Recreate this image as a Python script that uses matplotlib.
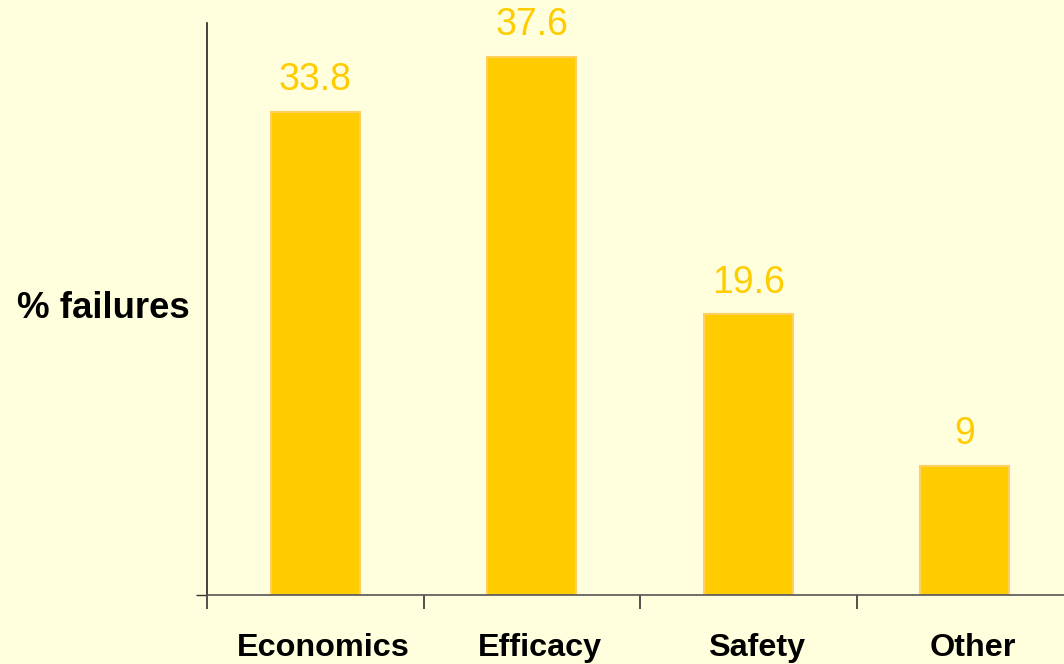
import matplotlib.pyplot as plt
from matplotlib.transforms import ScaledTranslation

categories = ['Economics', 'Efficacy', 'Safety', 'Other']
values = [33.8, 37.6, 19.6, 9]
value_labels = ['33.8', '37.6', '19.6', '9']

bg = '#FFFFDD'
gold = '#FFCC00'

plt.rcParams['font.family'] = ['Liberation Sans', 'DejaVu Sans']

fig = plt.figure(figsize=(10.64, 6.64), dpi=100, facecolor=bg)
ax = fig.add_axes([207 / 1064, 1 - 594.5 / 664, 866 / 1064, (594.5 - 23) / 664])
ax.set_facecolor(bg)

x = range(len(categories))
ax.bar(x, values, width=0.41, color=gold, edgecolor='#FFD060', linewidth=1.5, zorder=2)
for xi, v, lab in zip(x, values, value_labels):
    ax.annotate(lab, (xi, v), xytext=(0, 10), textcoords='offset points',
                ha='center', va='bottom', color=gold, fontsize=27)

ax.set_xlim(-0.5, 3.5)
ax.set_ylim(0, 40)

for s in ['top', 'right']:
    ax.spines[s].set_visible(False)
ax.spines['left'].set_color('#222222')
ax.spines['bottom'].set_color('#555555')
ax.spines['left'].set_linewidth(1.2)
ax.spines['bottom'].set_linewidth(1.2)

ax.set_yticks([0])
ax.set_yticklabels([])
ax.tick_params(axis='y', length=8, width=1, color='#333333')

ax.set_xticks(list(x))
ax.set_xticklabels(categories, fontsize=23.3, fontweight='bold')
ax.tick_params(axis='x', which='major', length=0, pad=27.5)
shift = ScaledTranslation(0.08, 0, fig.dpi_scale_trans)
for lbl in ax.get_xticklabels():
    lbl.set_transform(lbl.get_transform() + shift)
ax.set_xticks([-0.5, 0.5, 1.5, 2.5, 3.5], minor=True)
ax.tick_params(axis='x', which='minor', length=10, width=1.2, color='#333333')

fig.text(17 / 1064, 1 - 308 / 664, '% failures', fontsize=26.4, fontweight='bold',
         ha='left', va='center')

fig.savefig('out.png', dpi=100, facecolor=bg)
